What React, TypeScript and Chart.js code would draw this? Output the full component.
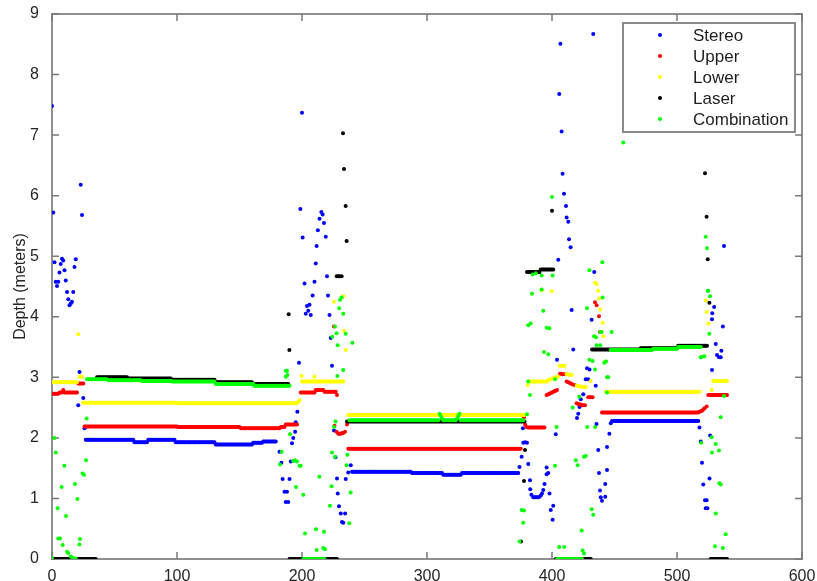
import React, { useEffect, useRef } from "react";
import { Chart, registerables } from "chart.js";

Chart.register(...registerables);

type Run = [number, number, number];
type Pt = [number, number];

const seriesNames = ["Stereo", "Upper", "Lower", "Laser", "Combination"];
const seriesColors = ["#0000ff", "#ff0000", "#ffff00", "#000000", "#00ff00"];
const xTickValues = [0, 100, 200, 300, 400, 500, 600];
const yTickValues = [0, 1, 2, 3, 4, 5, 6, 7, 8, 9];

// ---------- Stereo (blue) ----------
const stereoRuns: Run[] = [
  [27, 65, 1.97], [66, 76, 1.93], [77, 98, 1.97], [99, 130, 1.93], [131, 160, 1.89],
  [161, 168, 1.92], [169, 179, 1.94],
  [240, 287, 1.44], [288, 312, 1.42], [313, 327, 1.39], [328, 373, 1.42],
  [448, 517, 2.28],
];
const stereoPts: Pt[] = [
  [0, 7.48], [1, 5.72], [2, 4.9], [3, 4.58], [4, 4.51], [5, 4.58], [6, 4.73], [7, 4.87], [8, 4.96],
  [9, 4.93], [10, 4.77], [11, 4.6], [12, 4.41], [13, 4.29], [14, 4.19], [15, 4.22], [16, 4.25],
  [17, 4.41], [18, 4.82], [19, 4.95], [21, 2.54], [22, 3.09], [23, 6.18], [24, 5.68], [25, 2.66], [26, 2.16],
  [182, 1.77], [183.5, 1.59], [184.5, 1.32], [186, 1.11], [188, 1.11], [187, 0.94], [189, 0.94],
  [190, 1.32], [191, 1.61], [192, 1.91], [193, 2.0], [194.5, 2.1], [195, 2.26], [196.3, 2.43],
  [197.6, 3.24], [198.7, 5.78], [200, 7.37], [200.5, 5.31], [202, 4.55], [203, 4.05], [204, 4.18],
  [205, 4.1], [206, 4.2], [207, 4.03], [208.5, 4.35], [210, 4.58], [211, 4.88], [211.7, 5.17],
  [212.7, 5.43], [214, 5.62], [215.5, 5.73], [216.5, 5.69], [217.6, 5.55], [219, 5.32], [220, 4.67],
  [220.8, 4.35], [222, 4.03], [223, 3.65], [224, 3.19], [225.6, 2.12], [226.8, 1.68], [228, 1.33],
  [228.6, 1.08], [229.6, 0.87], [231, 0.75], [232, 0.61], [233, 0.6], [234.5, 0.75], [235, 1.32],
  [237, 1.43], [239, 1.55],
  [374, 1.52], [375.7, 1.69], [376.7, 2.16], [377, 1.92], [378.5, 1.93], [380, 1.92], [381, 1.57],
  [382.4, 1.3], [382.6, 1.15], [383.5, 1.06], [385, 1.02], [386, 1.02], [387, 1.02], [388, 1.02],
  [389, 1.02], [390, 1.03], [391, 1.05], [392, 1.08], [393, 1.14], [394, 1.24], [395.7, 1.4],
  [397, 1.42], [395.7, 1.51], [398, 1.08], [399, 0.81], [400.5, 0.65], [401, 0.88], [403, 2.06],
  [404, 3.29], [405, 4.94], [405.8, 7.68], [406.7, 8.51], [407.7, 7.06], [408.5, 6.36], [409.6, 6.03],
  [411.2, 5.83], [411.7, 5.64], [413, 5.57], [413.6, 5.28], [414.9, 5.15], [415.7, 4.11], [417, 3.46],
  [420, 2.33], [421, 2.4], [422, 2.51], [423, 2.64], [425, 2.72], [427, 2.97], [429, 2.97], [428, 3.15],
  [430, 3.13], [431.7, 3.95], [433, 8.67], [433.8, 4.74], [435, 2.86], [435.6, 2.23], [437, 1.8],
  [437.6, 1.42], [438.4, 1.13], [439, 1.02], [440, 0.96], [442.6, 1.24], [442.6, 1.03], [444, 1.47],
  [444, 1.85], [445.9, 2.07], [447, 2.24],
  [518, 2.17], [519, 1.94], [520, 1.59], [521, 1.23], [522.4, 0.97], [523.7, 0.97], [523, 0.84],
  [524.3, 0.84], [526, 1.33], [526.5, 2.04], [528, 3.12], [528, 3.96], [528.2, 4.06], [529.7, 4.16],
  [531, 3.55], [532, 3.37], [533.6, 3.33], [535, 3.33], [535.5, 3.44], [536.7, 3.84], [537.6, 5.17],
];

// ---------- Upper (red) ----------
const upperRuns: Run[] = [
  [0, 5, 2.73], [6, 8, 2.75], [9, 9, 2.79], [10, 20, 2.75], [21, 25, 2.9],
  [26, 100, 2.19], [101, 150, 2.18], [151, 182, 2.16], [183, 186, 2.18], [187, 196, 2.22],
  [199, 210, 2.75], [211, 217, 2.79], [218, 227, 2.76],
  [237, 375, 1.82], [381, 394, 2.17], [440, 517, 2.42], [525, 540, 2.71],
];
const upperPts: Pt[] = [
  [228, 2.71], [225.6, 3.84], [226, 2.2], [227.7, 2.1], [229, 2.07], [230, 2.07], [231, 2.07],
  [232, 2.08], [233, 2.08], [234.4, 2.1], [236, 2.22],
  [377.6, 2.34], [378.5, 2.22], [379.5, 2.18],
  [395.7, 2.71], [397, 2.72], [398, 2.73], [399, 2.74], [400, 2.75], [401, 2.76], [402, 2.77],
  [403, 2.78], [404, 2.79], [406.4, 3.06], [407.5, 3.06], [408.5, 3.05], [410, 3.05],
  [411.7, 2.93], [413, 2.92], [414, 2.91], [415, 2.9], [416.5, 2.88], [418.4, 2.87],
  [419.7, 2.57], [421, 2.56], [422, 2.55], [423, 2.55], [424, 2.54], [425, 2.54], [426.4, 2.54],
  [429, 2.67], [430, 2.67], [431, 2.67], [432.5, 2.67],
  [434.4, 4.24], [435.7, 4.19], [437.6, 4.01], [438.4, 3.75],
  [518, 2.43], [519, 2.44], [520, 2.45], [521, 2.47], [522, 2.49], [523.7, 2.52],
];

// ---------- Lower (yellow) ----------
const lowerRuns: Run[] = [
  [0, 20, 2.92], [22, 24, 3.01], [25, 100, 2.58], [101, 196, 2.57],
  [200, 233, 2.93], [237, 378, 2.38], [381, 396, 2.93], [443, 518, 2.76], [529, 540, 2.94],
];
const lowerPts: Pt[] = [
  [21, 3.71], [197, 2.6], [198, 2.62], [199.7, 3.02], [209.9, 3.01], [225.6, 4.25], [233, 4.34],
  [233.6, 3.77], [235, 3.45],
  [380.5, 2.87], [391.7, 4.44], [399.7, 4.42], [397, 2.95], [399, 2.97], [401, 2.99], [403, 3.0],
  [405, 3.01], [406, 3.19], [407, 3.19], [408, 3.19], [409, 3.19], [410, 3.19], [411.7, 3.05],
  [413, 3.05], [414, 3.04], [415.7, 3.04], [419.7, 2.86], [421, 2.86], [422, 2.85], [423, 2.85],
  [424, 2.84], [425, 2.84], [426, 2.84], [427, 2.84], [430.9, 2.94],
  [434.4, 4.56], [435.7, 4.54], [437, 4.43], [437.7, 4.3], [438.6, 4.12], [440.5, 3.9], [441, 3.68],
  [442.4, 3.26], [523, 4.27], [523.7, 4.08], [525, 3.89], [527.7, 2.79],
];

// ---------- Laser (black) ----------
const laserRuns: Run[] = [
  [0, 35, 0], [36, 60, 3.0], [61, 95, 2.98], [96, 130, 2.96], [131, 160, 2.92], [161, 189, 2.89],
  [190, 228, 0], [236, 378, 2.27], [380, 390, 4.74], [391, 401, 4.78], [403, 431, 0],
  [432, 470, 3.46], [471, 500, 3.48], [501, 524, 3.52], [527, 540, 0],
];
const laserPts: Pt[] = [
  [189.3, 4.04], [189.9, 3.45], [227.7, 4.67], [229, 4.67], [230, 4.67], [231.7, 4.67],
  [232.8, 7.03], [233.6, 6.44], [234.9, 5.83], [235.7, 5.25],
  [375.2, 0.29], [377.6, 1.29], [378.4, 1.8], [400, 5.75],
  [522.4, 6.37], [523.7, 5.65], [524.6, 4.95], [525.9, 4.23],
];

// ---------- Combination (green) ----------
const combinationRuns: Run[] = [
  [28, 44, 2.97], [45, 71, 2.95], [72, 95, 2.94], [96, 130, 2.93], [131, 161, 2.89], [162, 190, 2.86],
  [201, 218, 0], [238, 309, 2.29], [313, 323, 2.29], [327, 377, 2.29], [404, 424, 0],
  [447, 480, 3.45], [481, 500, 3.47], [501, 519, 3.5],
];
const combinationPts: Pt[] = [
  [0, 0.02], [1.9, 2.0], [3, 1.76], [4.5, 0.84], [5, 0.34], [6.4, 0.34], [7.7, 1.19], [8.5, 0.23],
  [9.9, 1.54], [11.2, 0.71], [12, 0.12], [13, 0.1], [15, 0.04], [16.5, 0.02], [17.5, 0.01], [19, 0.01],
  [18.4, 1.24], [20.3, 0.99], [21.9, 0.24], [22.4, 0.33], [24.5, 1.41], [25.6, 1.39], [27.2, 1.63], [27.7, 2.32],
  [182.4, 1.56], [183.7, 1.77], [187, 3.11], [188, 3.11], [187, 3.01], [188.3, 3.04], [190.4, 2.06],
  [193, 1.62], [194.4, 1.63], [195.2, 1.19], [196, 1.61], [198, 1.54], [199, 1.54], [201, 1.06],
  [202.4, 0.42], [211.2, 0.49], [211.7, 0.15], [213.9, 1.36], [217, 0.18], [217.6, 0.45], [218.4, 0.16],
  [222.4, 0.88], [223.7, 1.2], [224, 1.76], [224.2, 3.67], [225.6, 2.18], [226.4, 3.84], [226.4, 1.69],
  [226.8, 2.27], [227.7, 3.73], [228.3, 3.02], [228.5, 3.53], [229.8, 4.14], [230.4, 4.28], [231.7, 4.32],
  [233, 4.05], [233, 3.12], [235, 3.72], [235.7, 1.55], [236.3, 1.72], [237.8, 0.59], [238.9, 1.1],
  [240.3, 3.57],
  [310, 2.4], [311, 2.36], [312, 2.32], [324, 2.32], [325, 2.36], [326, 2.4],
  [374, 0.29], [375.7, 0.81], [377, 0.6], [377.6, 0.8], [380, 2.39], [381, 2.93], [381, 3.86],
  [382.9, 3.89], [382.4, 2.71], [384, 4.38], [384.5, 4.7], [387, 4.72], [391.7, 4.45], [391.7, 4.68],
  [393, 4.1], [393.6, 3.42], [395.7, 3.82], [397, 3.38], [397.9, 3.81], [400, 5.98], [400.5, 4.68],
  [402.4, 2.97], [402.4, 1.54], [403.7, 2.18], [405.8, 0.2], [409.8, 0.2], [416.5, 2.5], [419, 1.63],
  [420.5, 1.55], [421.8, 2.68], [423.7, 0.47], [424.5, 0.14], [425.6, 0.09], [425.6, 1.69], [427, 1.7],
  [428.2, 2.18], [428, 4.14], [429.9, 4.77], [429.9, 3.29], [432.5, 3.27], [431.7, 0.82], [433, 0.73],
  [433.6, 3.68], [434.4, 3.13], [434.4, 2.18], [435.2, 3.66], [435.7, 3.53], [438.6, 3.53], [438.8, 3.75],
  [439.7, 3.75], [440.3, 4.9], [440.5, 4.32], [441.8, 3.24], [443.2, 3.26], [444, 3.0], [444, 2.75],
  [445, 3.0], [447.7, 3.75], [457, 6.88],
  [518.9, 3.33], [520, 3.34], [522, 3.35], [519.3, 1.92], [523, 5.32], [524, 5.13], [524.6, 4.43],
  [525, 4.43], [526.4, 4.34], [525.9, 3.72], [527.7, 2.01], [528, 1.76], [531, 1.9], [533.6, 1.79],
  [533.9, 1.25], [535, 1.23], [531, 0.75], [535, 2.34], [537.6, 2.69], [538.9, 0.41], [530.4, 0.21],
  [536.7, 0.18],
];

const seriesRuns: Run[][] = [stereoRuns, upperRuns, lowerRuns, laserRuns, combinationRuns];
const seriesPts: Pt[][] = [stereoPts, upperPts, lowerPts, laserPts, combinationPts];

function buildPoints(runs: Run[], pts: Pt[]) {
  const out: { x: number; y: number }[] = [];
  for (const [a, b, v] of runs) {
    for (let x = a; x <= b; x++) out.push({ x, y: v });
  }
  for (const [x, y] of pts) out.push({ x, y });
  return out;
}

const FONT = "'Liberation Sans', Arial, Helvetica, sans-serif";

const framePlugin = {
  id: "matlabFrame",
  beforeDatasetsDraw(chart: any) {
    const { ctx, chartArea, scales } = chart;
    const { left, top, right, bottom } = chartArea;
    ctx.save();
    ctx.strokeStyle = "#8f8f8f";
    ctx.lineWidth = 2;
    ctx.strokeRect(left, top, right - left, bottom - top);
    ctx.strokeStyle = "#7a7a7a";
    ctx.lineWidth = 1.5;
    ctx.beginPath();
    for (const v of xTickValues) {
      const px = scales.x.getPixelForValue(v);
      ctx.moveTo(px, bottom);
      ctx.lineTo(px, bottom - 7);
      ctx.moveTo(px, top);
      ctx.lineTo(px, top + 7);
    }
    for (const v of yTickValues) {
      const py = scales.y.getPixelForValue(v);
      ctx.moveTo(left, py);
      ctx.lineTo(left + 7, py);
      ctx.moveTo(right, py);
      ctx.lineTo(right - 7, py);
    }
    ctx.stroke();
    ctx.restore();
  },
  afterDraw(chart: any) {
    const { ctx, chartArea } = chart;
    const w = 172;
    const h = 109;
    const bx = chartArea.right - 7 - w;
    const by = chartArea.top + 9;
    ctx.save();
    ctx.fillStyle = "#ffffff";
    ctx.fillRect(bx, by, w, h);
    ctx.strokeStyle = "#8a8a8a";
    ctx.lineWidth = 2;
    ctx.strokeRect(bx, by, w, h);
    ctx.font = `17px ${FONT}`;
    ctx.textBaseline = "middle";
    ctx.textAlign = "left";
    seriesNames.forEach((name, i) => {
      const cy = by + 12 + i * 21;
      ctx.fillStyle = seriesColors[i];
      ctx.beginPath();
      ctx.arc(bx + 37, cy, 2, 0, Math.PI * 2);
      ctx.fill();
      ctx.fillStyle = "#1e1e1e";
      ctx.fillText(name, bx + 70, cy + 1);
    });
    ctx.restore();
  },
};

export default function App() {
  const ref = useRef<HTMLCanvasElement | null>(null);

  useEffect(() => {
    document.body.style.margin = "0";
    if (!ref.current) return;
    const datasets = seriesNames
      .map((name, i) => ({
        label: name,
        data: buildPoints(seriesRuns[i], seriesPts[i]),
        backgroundColor: seriesColors[i],
        borderColor: seriesColors[i],
        borderWidth: 0,
        pointRadius: 2,
        pointHoverRadius: 2,
        showLine: false,
      }))
      .reverse();

    const chart = new Chart(ref.current, {
      type: "scatter",
      data: { datasets },
      options: {
        animation: false,
        responsive: false,
        events: [],
        layout: { padding: { top: 14, right: 15, left: 0, bottom: 0 } },
        plugins: { legend: { display: false }, tooltip: { enabled: false } },
        scales: {
          x: {
            type: "linear",
            min: 0,
            max: 600,
            grid: { display: false },
            border: { display: false },
            ticks: {
              stepSize: 100,
              padding: 0,
              color: "#262626",
              font: { size: 16, family: FONT },
            },
            afterFit: (s: any) => {
              s.height = 22;
              s.paddingLeft = 0;
              s.paddingRight = 0;
            },
          },
          y: {
            type: "linear",
            min: 0,
            max: 9,
            grid: { display: false },
            border: { display: false },
            ticks: {
              stepSize: 1,
              padding: 5,
              color: "#262626",
              font: { size: 16, family: FONT },
            },
            title: {
              display: true,
              text: "Depth (meters)",
              color: "#262626",
              font: { size: 16, family: FONT },
              padding: { top: 11, bottom: 0 },
            },
            afterFit: (s: any) => {
              s.width = 52;
              s.paddingTop = 0;
              s.paddingBottom = 0;
            },
          },
        },
      },
      plugins: [framePlugin],
    });
    return () => chart.destroy();
  }, []);

  return <canvas ref={ref} width={817} height={581} style={{ display: "block", width: 817, height: 581 }} />;
}
